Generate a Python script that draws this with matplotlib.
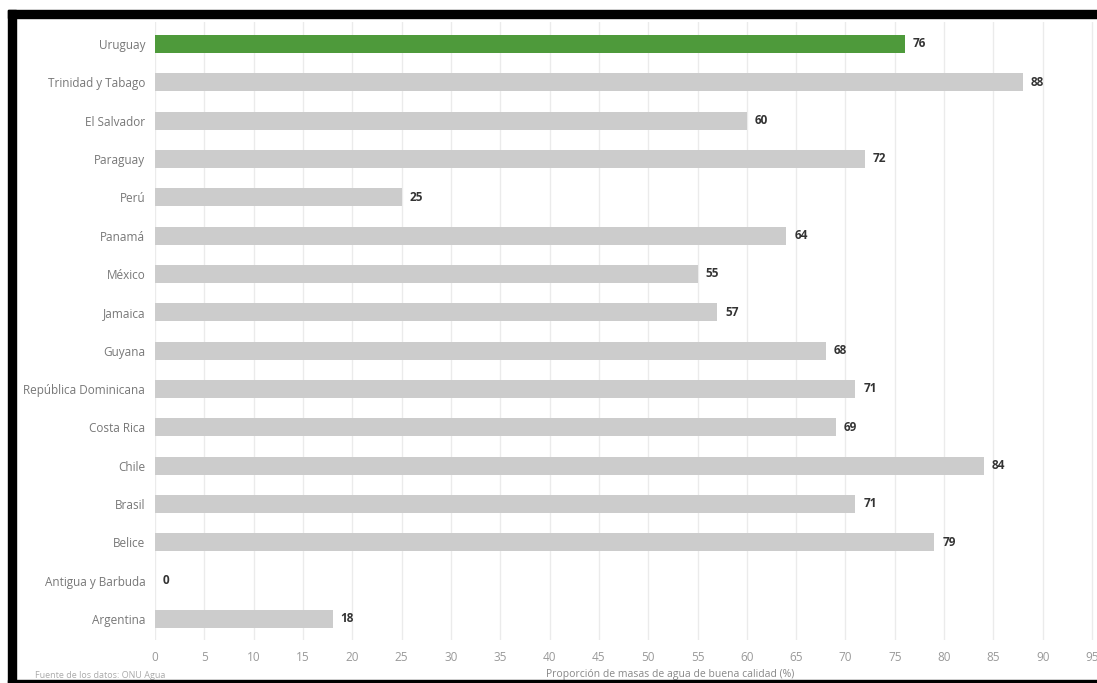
import matplotlib
matplotlib.use("Agg")
import matplotlib.pyplot as plt
from matplotlib.patches import Rectangle

# Datos (de arriba hacia abajo)
paises = ["Uruguay", "Trinidad y Tabago", "El Salvador", "Paraguay", "Perú",
          "Panamá", "México", "Jamaica", "Guyana", "República Dominicana",
          "Costa Rica", "Chile", "Brasil", "Belice", "Antigua y Barbuda",
          "Argentina"]
valores = [76, 88, 60, 72, 25, 64, 55, 57, 68, 71, 69, 84, 71, 79, 0, 18]
destacado = "Uruguay"
ticks_x = list(range(0, 100, 5))
titulo_x = "Proporción de masas de agua de buena calidad (%)"
fuente = "Fuente de los datos: ONU Agua"

plt.rcParams['font.family'] = ['Open Sans', 'DejaVu Sans']

fig = plt.figure(figsize=(10.97, 6.83), dpi=100)
ax = fig.add_axes([155 / 1097, 43 / 683, 1 - 155 / 1097, 618 / 683])

n = len(paises)
pos = [n - 1 - i for i in range(n)]
colores = ["#4e9a3b" if p == destacado else "#cccccc" for p in paises]
ax.barh(pos, valores, height=0.47, color=colores, zorder=2)

for y, v in zip(pos, valores):
    ax.text(v + 0.8, y, str(v), va="center", ha="left", fontsize=8.5,
            fontweight="bold", color="#333333")

ax.set_yticks(pos)
ax.set_yticklabels(paises, fontsize=8.5, color="#777777")
ax.set_xticks(ticks_x)
ax.set_xticklabels([str(t) for t in ticks_x], fontsize=8.5, color="#999999")
ax.set_xlim(0, 95.5)
ax.set_ylim(-0.55, n - 1 + 0.57)
ax.tick_params(axis="both", length=0, pad=7)
ax.tick_params(axis="x", pad=8)
ax.grid(axis="x", color="#ebebeb", linewidth=1, zorder=0)
for s in ax.spines.values():
    s.set_visible(False)

fig.text(670 / 1097, 1 - 674 / 683, titulo_x, ha="center", va="center",
         fontsize=7.5, color="#888888")
fig.text(35 / 1097, 1 - 675 / 683, fuente, ha="left", va="center",
         fontsize=6.5, color="#aaaaaa")

# Marco negro de la captura
fig.patches.append(Rectangle((8 / 1097, 1 - 18 / 683), 1, 8 / 683,
                             transform=fig.transFigure, color="black", zorder=10))
fig.patches.append(Rectangle((8 / 1097, 0), 8 / 1097, 1 - 10 / 683,
                             transform=fig.transFigure, color="black", zorder=10))
fig.patches.append(Rectangle((8 / 1097, 0), 1, 3 / 683,
                             transform=fig.transFigure, color="black", zorder=10))

fig.savefig("out.png", dpi=100)
